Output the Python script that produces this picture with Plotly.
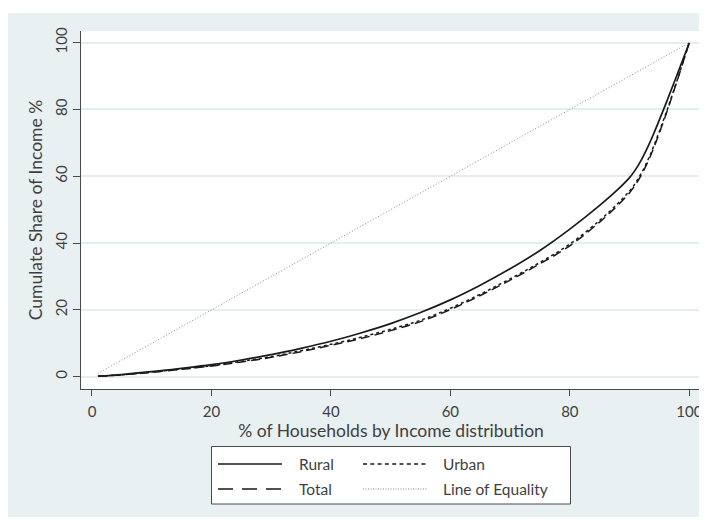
import plotly.graph_objects as go

# ---------------- data ----------------
pct = [1, 5, 10, 15, 20, 25, 30, 35, 40, 45, 50, 55, 60, 65, 70, 75, 80, 85, 88, 90, 91, 92, 93, 94, 96, 98, 100]
rural = [0.15, 0.65, 1.5, 2.5, 3.6, 5.0, 6.6, 8.5, 10.6, 13.1, 15.9, 19.2, 23.0, 27.4, 32.3, 37.8, 44.2, 51.3, 56.0, 59.6, 62.0, 65.0, 68.6, 72.6, 81.4, 90.6, 100]
urban = [0.15, 0.6, 1.4, 2.3, 3.3, 4.6, 6.0, 7.8, 9.7, 11.8, 14.2, 16.9, 20.5, 24.7, 29.3, 34.2, 39.7, 46.8, 51.8, 55.6, 58.0, 61.0, 64.6, 68.8, 78.4, 89.0, 100]
total = [0.15, 0.55, 1.3, 2.2, 3.2, 4.4, 5.8, 7.5, 9.4, 11.4, 13.8, 16.5, 20.1, 24.3, 28.9, 33.8, 39.2, 46.3, 51.3, 55.1, 57.5, 60.5, 64.1, 68.3, 78.0, 88.8, 100]
equality_x = [1, 100]
equality_y = [1, 100]

x_ticks = [0, 20, 40, 60, 80, 100]
y_ticks = [0, 20, 40, 60, 80, 100]

series_names = ["Rural", "Urban", "Total", "Line of Equality"]

# ---------------- styling ----------------
FONT = "Lato"
TXT = "#3f3f3f"
BG = "#e8f0f2"
GRID = "#e4edf0"
LINE = "#1a1a1a"

OFF = 8  # page body margin
W, H = 707 - OFF, 520 - OFF
L, R, T, B = 81 - OFF, 701 - OFF, 31 - OFF, 389 - OFF  # plot area in figure pixels


def px2x(px):  # reference-image pixel -> paper coordinate
    return (px - OFF - L) / (R - L)


def py2y(py):
    return (B - (py - OFF)) / (B - T)


fig = go.Figure()

fig.add_trace(go.Scatter(x=equality_x, y=equality_y, mode="lines", name=series_names[3],
                         line=dict(color="#8a8a8a", width=1, dash="1px,2px"), showlegend=False))
fig.add_trace(go.Scatter(x=pct, y=total, mode="lines", name=series_names[2], line_shape="spline",
                         line=dict(color=LINE, width=1.5, dash="9px,5px"), showlegend=False))
fig.add_trace(go.Scatter(x=pct, y=urban, mode="lines", name=series_names[1], line_shape="spline",
                         line=dict(color=LINE, width=1.5, dash="3px,3px"), showlegend=False))
fig.add_trace(go.Scatter(x=pct, y=rural, mode="lines", name=series_names[0], line_shape="spline",
                         line=dict(color=LINE, width=1.7), showlegend=False))

shapes = []
# white strips around the light background (reference pixels)
shapes.append(dict(type="rect", xref="paper", yref="paper", x0=px2x(0), x1=px2x(720), y0=py2y(0), y1=py2y(13),
                   fillcolor="white", line_width=0, layer="above"))
shapes.append(dict(type="rect", xref="paper", yref="paper", x0=px2x(0), x1=px2x(720), y0=py2y(517), y1=py2y(530),
                   fillcolor="white", line_width=0, layer="above"))

# legend box
shapes.append(dict(type="rect", xref="paper", yref="paper", x0=px2x(211.5), x1=px2x(570.5),
                   y0=py2y(504), y1=py2y(446.5), fillcolor="white", line=dict(color="#4a4a4a", width=1)))
legend_items = [
    (series_names[0], 218, 282, 297, 464, dict(color=LINE, width=1.6)),
    (series_names[1], 363, 428, 441, 464, dict(color=LINE, width=1.4, dash="4px,3.3px")),
    (series_names[2], 218, 282, 297, 489, dict(color=LINE, width=1.6, dash="15px,9px")),
    (series_names[3], 363, 428, 441, 489, dict(color="#8a8a8a", width=1, dash="1px,1.5px")),
]
annotations = []
for name, lx0, lx1, tx, ly, ls in legend_items:
    shapes.append(dict(type="line", xref="paper", yref="paper", x0=px2x(lx0), x1=px2x(lx1),
                       y0=py2y(ly), y1=py2y(ly), line=ls))
    annotations.append(dict(xref="paper", yref="paper", x=px2x(tx), y=py2y(ly), text=name,
                            showarrow=False, xanchor="left", yanchor="middle",
                            font=dict(family=FONT, size=15.5, color=TXT)))

fig.update_layout(
    width=W, height=H,
    margin=dict(l=L, r=W - R, t=T, b=H - B, pad=0),
    paper_bgcolor=BG, plot_bgcolor="white",
    font=dict(family=FONT, color=TXT),
    shapes=shapes, annotations=annotations,
    xaxis=dict(range=[-1.84, 101.96], tickvals=x_ticks, ticks="outside", ticklen=6, tickwidth=1,
               tickcolor="#4a4a4a", showline=True, linecolor="#4a4a4a", linewidth=1.2,
               showgrid=False, zeroline=False, tickfont=dict(size=15, color=TXT), ticklabelstandoff=3,
               automargin=False,
               title=dict(text="% of Households by Income distribution", font=dict(size=17.5, color=TXT), standoff=0)),
    yaxis=dict(range=[-3.68, 103.5], tickvals=y_ticks, ticks="outside", ticklen=7, tickwidth=1,
               tickcolor="#4a4a4a", showline=True, linecolor="#4a4a4a", linewidth=1.2,
               showgrid=True, gridcolor=GRID, gridwidth=1.5, zeroline=False, tickangle=-90,
               tickfont=dict(size=15, color=TXT), automargin=False,
               title=dict(text="Cumulate Share of Income %", font=dict(size=17.5, color=TXT), standoff=4)),
)

fig.write_html("out.html")
